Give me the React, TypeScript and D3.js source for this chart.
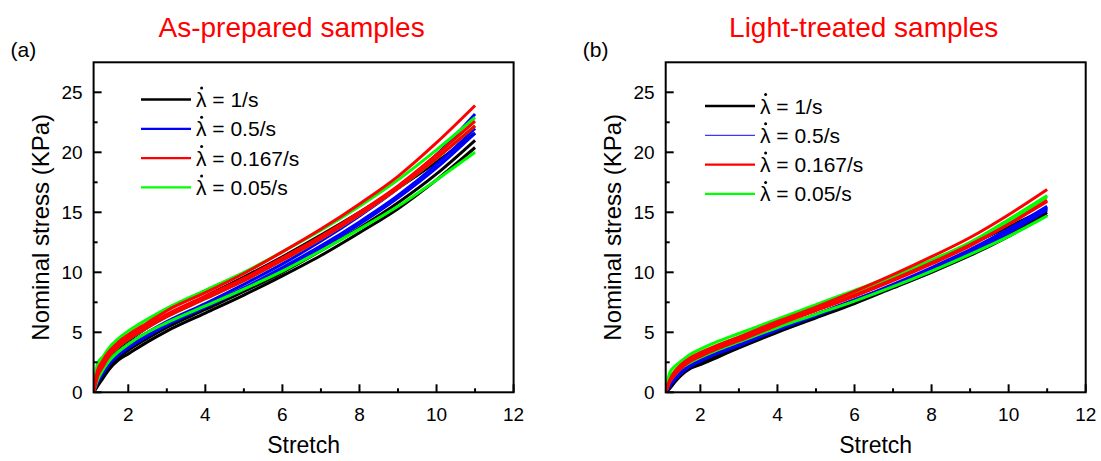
import React from 'react'
import * as d3 from 'd3'

const STRETCH = [1.1, 1.2, 1.35, 1.5, 1.75, 2, 2.5, 3, 4, 5, 6, 7, 8, 9, 10, 11]

// (a) as-prepared samples, nominal stress in KPa (three samples per rate)
const asPreparedBlack = [
  [0, 1.2, 2.1, 2.9, 3.7, 4.3, 5.4, 6.4, 8.0, 9.6, 11.3, 13.1, 15.0, 17.0, 19.2, 21.6],
  [0, 0.6, 1.4, 2.1, 2.9, 3.5, 4.5, 5.4, 6.9, 8.4, 10.0, 11.8, 13.7, 15.8, 18.2, 21.0],
  [0, 0.5, 1.2, 1.9, 2.7, 3.2, 4.2, 5.1, 6.6, 8.1, 9.7, 11.4, 13.3, 15.3, 17.7, 20.4],
]
const asPreparedBlue = [
  [0, 1.0, 1.9, 2.6, 3.4, 4.0, 5.0, 5.9, 7.4, 9.0, 10.7, 12.6, 14.7, 17.0, 19.8, 23.2],
  [0, 0.9, 1.7, 2.4, 3.2, 3.8, 4.8, 5.7, 7.2, 8.7, 10.4, 12.2, 14.2, 16.4, 19.0, 22.0],
  [0, 0.8, 1.6, 2.3, 3.1, 3.7, 4.7, 5.6, 7.1, 8.6, 10.2, 12.0, 14.0, 16.2, 18.7, 21.6],
]
const asPreparedRed = [
  [0, 1.8, 2.7, 3.4, 4.2, 4.8, 5.8, 6.8, 8.3, 9.9, 11.7, 13.6, 15.7, 18.0, 20.8, 23.9],
  [0, 1.5, 2.4, 3.2, 4.0, 4.6, 5.6, 6.5, 8.0, 9.5, 11.2, 13.0, 15.0, 17.2, 19.8, 22.6],
  [0, 1.3, 2.2, 3.0, 3.8, 4.4, 5.4, 6.3, 7.8, 9.3, 11.0, 12.8, 14.8, 17.0, 19.5, 22.2],
]
const asPreparedGreen = [
  [0, 2.4, 3.0, 3.7, 4.5, 5.1, 6.1, 7.0, 8.5, 10.0, 11.7, 13.5, 15.5, 17.7, 20.2, 22.9],
  [0, 1.4, 2.3, 3.0, 3.8, 4.4, 5.4, 6.3, 7.8, 9.3, 11.0, 12.8, 14.8, 17.0, 19.5, 22.2],
  [0, 1.0, 1.9, 2.6, 3.4, 4.0, 5.0, 5.8, 7.2, 8.6, 10.1, 11.8, 13.6, 15.5, 17.7, 20.0],
]

// (b) light-treated samples
const lightBlack = [
  [0, 0.7, 1.4, 1.9, 2.5, 2.9, 3.7, 4.4, 5.7, 7.0, 8.3, 9.6, 10.9, 12.3, 13.8, 15.3],
  [0, 0.4, 1.0, 1.5, 2.1, 2.5, 3.2, 3.8, 5.1, 6.3, 7.5, 8.8, 10.2, 11.6, 13.2, 15.0],
  [0, 0.3, 0.9, 1.4, 2.0, 2.3, 3.0, 3.7, 5.0, 6.2, 7.4, 8.7, 10.0, 11.4, 13.0, 14.8],
]
const lightBlue = [
  [0, 0.6, 1.2, 1.7, 2.3, 2.7, 3.4, 4.0, 5.3, 6.5, 7.7, 8.9, 10.3, 11.8, 13.5, 15.4],
  [0, 0.5, 1.1, 1.6, 2.2, 2.6, 3.3, 3.9, 5.2, 6.4, 7.6, 8.8, 10.1, 11.6, 13.3, 15.2],
  [0, 0.6, 1.2, 1.7, 2.3, 2.7, 3.4, 4.0, 5.3, 6.5, 7.7, 9.0, 10.4, 11.9, 13.6, 15.5],
]
const lightRed = [
  [0, 1.0, 1.8, 2.3, 2.9, 3.3, 4.0, 4.6, 5.9, 7.1, 8.4, 9.8, 11.3, 12.9, 14.8, 16.9],
  [0, 0.9, 1.6, 2.1, 2.7, 3.1, 3.8, 4.4, 5.7, 6.9, 8.1, 9.4, 10.8, 12.3, 14.0, 15.9],
  [0, 0.8, 1.5, 2.0, 2.6, 3.0, 3.7, 4.3, 5.6, 6.8, 8.0, 9.3, 10.7, 12.2, 14.0, 16.0],
]
const lightGreen = [
  [0, 1.6, 2.2, 2.6, 3.2, 3.6, 4.3, 4.9, 6.1, 7.3, 8.5, 9.7, 11.0, 12.4, 14.2, 16.3],
  [0, 1.2, 1.8, 2.3, 2.9, 3.3, 4.0, 4.6, 5.9, 7.1, 8.3, 9.6, 11.0, 12.5, 14.4, 16.4],
  [0, 0.9, 1.5, 2.0, 2.5, 2.9, 3.6, 4.2, 5.4, 6.5, 7.6, 8.8, 10.1, 11.5, 13.0, 14.7],
]

const RATES = ['1/s', '0.5/s', '0.167/s', '0.05/s']
const X_TICKS = [2, 4, 6, 8, 10, 12]
const X_MINOR = [3, 5, 7, 9, 11]
const Y_TICKS = [0, 5, 10, 15, 20, 25]
const Y_MINOR = [2.5, 7.5, 12.5, 17.5, 22.5]

const COLORS = ['#000000', '#0000ff', '#ff0000', '#00ff00']
const FONT = 'Liberation Sans, Arial, sans-serif'

const W = 420
const TOP = 62.3
const BOTTOM = 392.3

const Panel = ({ left, title, tag, groups, legend }) => {
  const x = d3.scaleLinear().domain([1.1, 12]).range([left, left + W])
  const y = d3.scaleLinear().domain([0, 27.5]).range([BOTTOM, TOP])
  const line = d3
    .line()
    .x((d) => x(d[0]))
    .y((d) => y(d[1]))
    .curve(d3.curveMonotoneX)
  const clipId = `clip-${tag}`
  // draw order: black, blue, green, red on top
  const order = [0, 1, 3, 2]

  return (
    <g>
      <defs>
        <clipPath id={clipId}>
          <rect x={left} y={TOP} width={W} height={BOTTOM - TOP} />
        </clipPath>
      </defs>

      <text x={left - 83} y={57} fontSize={21} fontFamily={FONT}>
        ({tag})
      </text>
      <text x={left + 198} y={37} fontSize={28} fill="#ff0000" textAnchor="middle" fontFamily={FONT}>
        {title}
      </text>

      <g clipPath={`url(#${clipId})`}>
        {order.map((ci) =>
          groups[ci].map((vals, i) => (
            <path
              key={`${ci}-${i}`}
              d={line(STRETCH.map((s, j) => [s, vals[j]]))}
              fill="none"
              stroke={COLORS[ci]}
              strokeWidth={3}
              strokeLinejoin="round"
            />
          ))
        )}
      </g>

      {/* frame */}
      <rect x={left} y={TOP} width={W} height={BOTTOM - TOP} fill="none" stroke="#000" strokeWidth={2} />

      {/* x ticks, pointing inward */}
      {X_TICKS.map((t) => (
        <g key={`xt${t}`}>
          <line x1={x(t)} x2={x(t)} y1={BOTTOM} y2={BOTTOM - 8} stroke="#000" strokeWidth={2} />
          <text x={x(t)} y={421} fontSize={19} textAnchor="middle" fontFamily={FONT}>
            {t}
          </text>
        </g>
      ))}
      {X_MINOR.map((t) => (
        <line key={`xm${t}`} x1={x(t)} x2={x(t)} y1={BOTTOM} y2={BOTTOM - 4} stroke="#000" strokeWidth={2} />
      ))}

      {Y_TICKS.map((t) => (
        <g key={`yt${t}`}>
          <line x1={left} x2={left + 8} y1={y(t)} y2={y(t)} stroke="#000" strokeWidth={2} />
          <text x={left - 11} y={y(t)} dy="0.35em" fontSize={19} textAnchor="end" fontFamily={FONT}>
            {t}
          </text>
        </g>
      ))}
      {Y_MINOR.map((t) => (
        <line key={`ym${t}`} x1={left} x2={left + 4} y1={y(t)} y2={y(t)} stroke="#000" strokeWidth={2} />
      ))}

      <text x={left + W / 2} y={453} fontSize={23} textAnchor="middle" fontFamily={FONT}>
        Stretch
      </text>
      <text
        transform={`translate(${left - 45},${(TOP + BOTTOM) / 2}) rotate(-90)`}
        fontSize={24}
        textAnchor="middle"
        fontFamily={FONT}
      >
        Nominal stress (KPa)
      </text>

      {/* legend */}
      {RATES.map((r, i) => {
        const ly = legend.y + i * 29.3
        const tx = legend.x + 55
        return (
          <g key={r}>
            <line
              x1={legend.x}
              x2={legend.x + 50}
              y1={ly}
              y2={ly}
              stroke={legend.blue && i === 1 ? '#3a3aff' : COLORS[i]}
              strokeWidth={legend.blue && i === 1 ? 1.3 : i === 0 ? 2.6 : 2.2}
            />
            <circle cx={tx + 5.6} cy={ly - 11.5} r={1.5} fill="#000" />
            <text x={tx} y={ly} dy="0.36em" fontSize={21} fontFamily={FONT}>
              {'\u03BB'} = {r}
            </text>
          </g>
        )
      })}
    </g>
  )
}

const App = () => {
  return (
    <svg
      width={1101}
      height={461}
      style={{ position: 'absolute', left: 0, top: 0, background: '#fff' }}
    >
      <Panel
        left={93.6}
        tag="a"
        title="As-prepared samples"
        groups={[asPreparedBlack, asPreparedBlue, asPreparedRed, asPreparedGreen]}
        legend={{ x: 141, y: 99.5, blue: false }}
      />
      <Panel
        left={665.7}
        tag="b"
        title="Light-treated samples"
        groups={[lightBlack, lightBlue, lightRed, lightGreen]}
        legend={{ x: 705, y: 106, blue: true }}
      />
    </svg>
  )
}

export default App
